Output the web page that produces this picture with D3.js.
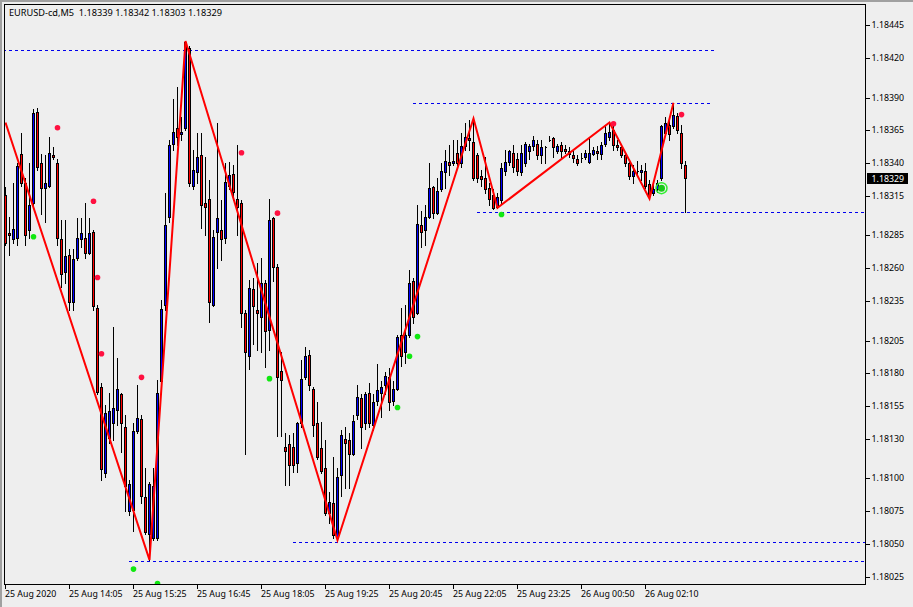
<!DOCTYPE html>
<html>
<head>
<meta charset="utf-8">
<script src="https://cdn.jsdelivr.net/npm/d3@7"></script>
<style>
body{margin:0;background:#eeeeee;}
svg{display:block;}
text{font-family:"Noto Sans",sans-serif;font-size:8.8px;fill:#000;}
</style>
</head>
<body>
<svg id="chart" width="913" height="607"></svg>
<script>
// EURUSD-cd M5 bars, index 0 = first visible bar
symbol = "EURUSD-cd,M5";

opens = [1.18316,1.18287,1.18282,1.18283,1.18347,1.18325,1.18289,1.18310,1.18379,1.18340,
1.18321,1.18323,1.18346,1.18340,1.18282,1.18257,1.18270,1.18234,1.18268,1.18282,
1.18283,1.18272,1.18288,1.18230,1.18170,1.18104,1.18131,1.18142,1.18152,1.18164,
1.18139,1.18075,1.18076,1.18136,1.18145,1.18086,1.18058,1.18055,1.18055,1.18174,
1.18232,1.18299,1.18355,1.18367,1.18362,1.18367,1.18428,1.18323,1.18333,1.18346,
1.18310,1.18313,1.18232,1.18288,1.18289,1.18283,1.18323,1.18332,1.18313,1.18310,
1.18226,1.18193,1.18244,1.18228,1.18223,1.18249,1.18213,1.18298,1.18261,1.18182,
1.18124,1.18126,1.18124,1.18112,1.18142,1.18177,1.18194,1.18168,1.18142,1.18123,
1.18108,1.18074,1.18081,1.18055,1.18103,1.18130,1.18129,1.18119,1.18148,1.18161,
1.18142,1.18165,1.18141,1.18159,1.18165,1.18171,1.18177,1.18159,1.18168,1.18209,
1.18196,1.18209,1.18250,1.18226,1.18293,1.18289,1.18299,1.18322,1.18302,1.18320,
1.18333,1.18341,1.18340,1.18348,1.18340,1.18353,1.18359,1.18356,1.18346,1.18330,
1.18329,1.18321,1.18316,1.18307,1.18312,1.18334,1.18341,1.18348,1.18343,1.18333,
1.18340,1.18349,1.18353,1.18355,1.18346,1.18352,1.18358,1.18359,1.18349,1.18354,
1.18351,1.18349,1.18346,1.18343,1.18344,1.18345,1.18341,1.18347,1.18349,1.18347,
1.18355,1.18360,1.18365,1.18354,1.18352,1.18346,1.18340,1.18330,1.18334,1.18333,
1.18334,1.18324,1.18317,1.18320,1.18329,1.18363,1.18369,1.18368,1.18376,1.18363,
1.18339];

highs = [1.18322,1.18299,1.18325,1.18340,1.18363,1.18329,1.18340,1.18381,1.18382,1.18347,
1.18346,1.18360,1.18352,1.18343,1.18297,1.18297,1.18275,1.18275,1.18298,1.18298,
1.18310,1.18298,1.18289,1.18232,1.18173,1.18156,1.18165,1.18215,1.18192,1.18165,
1.18148,1.18099,1.18142,1.18171,1.18148,1.18108,1.18097,1.18108,1.18175,1.18236,
1.18317,1.18358,1.18389,1.18398,1.18375,1.18433,1.18429,1.18350,1.18363,1.18363,
1.18345,1.18327,1.18289,1.18371,1.18312,1.18340,1.18341,1.18339,1.18354,1.18312,
1.18228,1.18251,1.18253,1.18264,1.18268,1.18251,1.18313,1.18299,1.18263,1.18196,
1.18135,1.18133,1.18135,1.18143,1.18190,1.18200,1.18198,1.18170,1.18158,1.18143,
1.18129,1.18090,1.18116,1.18108,1.18137,1.18139,1.18135,1.18148,1.18171,1.18164,
1.18166,1.18173,1.18164,1.18187,1.18174,1.18181,1.18184,1.18174,1.18209,1.18230,
1.18232,1.18259,1.18253,1.18308,1.18304,1.18308,1.18340,1.18323,1.18329,1.18340,
1.18350,1.18354,1.18358,1.18358,1.18363,1.18371,1.18373,1.18374,1.18348,1.18335,
1.18345,1.18325,1.18320,1.18317,1.18340,1.18350,1.18350,1.18354,1.18348,1.18354,
1.18356,1.18355,1.18361,1.18358,1.18358,1.18353,1.18361,1.18360,1.18355,1.18356,
1.18354,1.18352,1.18349,1.18346,1.18348,1.18350,1.18359,1.18352,1.18353,1.18356,
1.18369,1.18371,1.18368,1.18358,1.18355,1.18348,1.18343,1.18339,1.18342,1.18339,
1.18340,1.18327,1.18325,1.18327,1.18369,1.18375,1.18375,1.18386,1.18378,1.18369,
1.18342];

lows = [1.18278,1.18270,1.18279,1.18278,1.18323,1.18278,1.18283,1.18308,1.18335,1.18301,
1.18295,1.18322,1.18343,1.18278,1.18246,1.18249,1.18228,1.18228,1.18266,1.18276,
1.18268,1.18271,1.18228,1.18164,1.18099,1.18101,1.18127,1.18129,1.18141,1.18120,
1.18075,1.18072,1.18060,1.18135,1.18081,1.18058,1.18038,1.18053,1.18053,1.18171,
1.18228,1.18295,1.18350,1.18354,1.18358,1.18365,1.18323,1.18320,1.18325,1.18291,
1.18285,1.18219,1.18231,1.18260,1.18266,1.18279,1.18320,1.18312,1.18285,1.18215,
1.18119,1.18183,1.18202,1.18198,1.18196,1.18185,1.18198,1.18250,1.18132,1.18132,
1.18095,1.18095,1.18105,1.18105,1.18139,1.18176,1.18167,1.18132,1.18115,1.18104,
1.18072,1.18066,1.18055,1.18053,1.18087,1.18093,1.18093,1.18118,1.18145,1.18123,
1.18138,1.18139,1.18137,1.18156,1.18147,1.18164,1.18152,1.18156,1.18167,1.18186,
1.18188,1.18208,1.18218,1.18225,1.18276,1.18278,1.18298,1.18298,1.18301,1.18319,
1.18321,1.18331,1.18339,1.18339,1.18337,1.18350,1.18350,1.18327,1.18326,1.18323,
1.18317,1.18308,1.18305,1.18306,1.18310,1.18331,1.18339,1.18333,1.18331,1.18331,
1.18338,1.18343,1.18350,1.18343,1.18340,1.18340,1.18357,1.18345,1.18348,1.18345,
1.18348,1.18345,1.18341,1.18339,1.18341,1.18343,1.18340,1.18346,1.18343,1.18343,
1.18353,1.18358,1.18350,1.18350,1.18345,1.18338,1.18328,1.18325,1.18331,1.18327,
1.18321,1.18313,1.18316,1.18318,1.18327,1.18361,1.18358,1.18367,1.18363,1.18336,
1.18303];

closes = [1.18279,1.18285,1.18290,1.18338,1.18325,1.18285,1.18308,1.18378,1.18337,1.18321,
1.18325,1.18348,1.18345,1.18283,1.18256,1.18269,1.18234,1.18267,1.18283,1.18287,
1.18272,1.18287,1.18231,1.18166,1.18107,1.18150,1.18151,1.18154,1.18168,1.18142,
1.18094,1.18096,1.18136,1.18146,1.18087,1.18059,1.18096,1.18094,1.18165,1.18229,
1.18293,1.18354,1.18364,1.18360,1.18364,1.18432,1.18325,1.18335,1.18345,1.18308,
1.18307,1.18234,1.18284,1.18298,1.18282,1.18326,1.18331,1.18318,1.18307,1.18226,
1.18196,1.18245,1.18231,1.18226,1.18249,1.18212,1.18297,1.18261,1.18177,1.18175,
1.18121,1.18110,1.18110,1.18142,1.18176,1.18193,1.18171,1.18141,1.18116,1.18106,
1.18074,1.18082,1.18057,1.18101,1.18133,1.18127,1.18119,1.18144,1.18162,1.18139,
1.18164,1.18142,1.18158,1.18167,1.18170,1.18178,1.18158,1.18168,1.18208,1.18193,
1.18209,1.18249,1.18223,1.18294,1.18288,1.18299,1.18321,1.18302,1.18319,1.18334,
1.18342,1.18339,1.18342,1.18340,1.18353,1.18360,1.18358,1.18329,1.18329,1.18328,
1.18320,1.18313,1.18306,1.18314,1.18336,1.18341,1.18349,1.18337,1.18334,1.18348,
1.18355,1.18353,1.18358,1.18346,1.18352,1.18352,1.18358,1.18352,1.18353,1.18349,
1.18349,1.18347,1.18344,1.18340,1.18344,1.18348,1.18348,1.18350,1.18348,1.18354,
1.18363,1.18364,1.18354,1.18352,1.18346,1.18340,1.18330,1.18334,1.18334,1.18335,
1.18323,1.18315,1.18320,1.18325,1.18368,1.18371,1.18362,1.18377,1.18365,1.18340,
1.18329];

// price scale labels and time labels
priceTicks = [1.18445,1.18420,1.18390,1.18365,1.18340,1.18315,1.18285,1.18260,1.18235,
1.18205,1.18180,1.18155,1.18130,1.18100,1.18075,1.18050,1.18025];
timeLabelBars = [0,16,32,48,64,80,96,112,128,144,160];
timeLabels = ["25 Aug 2020","25 Aug 14:05","25 Aug 15:25","25 Aug 16:45","25 Aug 18:05",
"25 Aug 19:25","25 Aug 20:45","25 Aug 22:05","25 Aug 23:25","26 Aug 00:50","26 Aug 02:10"];

// zigzag pivots
zigBars = [0,36,45,83,117,123,151,161,167];
zigPrices = [1.18371,1.18038,1.18433,1.18053,1.18374,1.18306,1.18371,1.18313,1.18386];

// indicator dots
redDotBars = [13,22,23,24,34,59,68,152,169];
redDotPrices = [1.18367,1.18311,1.18253,1.18195,1.18177,1.18348,1.18302,1.18370,1.18377];
greenDotBars = [7,32,38,66,98,101,103,124];
greenDotPrices = [1.18284,1.18031,1.18020,1.18176,1.18154,1.18193,1.18208,1.18301];
signalBar = 164;
signalPrice = 1.18321;

// horizontal levels (bar range they span)
levelPrices = [1.18426,1.18386,1.18303,1.18052,1.18037];
levelFrom = [-2,102,118,72,31];
levelTo = [177.6,176.4,230,230,230];

let svg = d3.select("#chart");
let W = 913, H = 607;
let pLeft = 4, pTop = 4, pRight = 865, pBottom = 584;

let x = d3.scaleLinear().domain([0,170]).range([5,685]);
let y = d3.scaleLinear().domain([1.18025,1.18445]).range([577,25.3]);
let cx = i => Math.round(x(i)) + 0.5;
let ry = p => Math.round(y(p));

svg.append("rect").attr("width",W).attr("height",H).attr("fill","#eeeeee");
// window edge
svg.append("path").attr("d","M0,1 H"+W+" M1,0 V"+H)
    .attr("stroke","#a0a0a0").attr("stroke-width",2).attr("fill","none");

svg.append("clipPath").attr("id","plotclip")
    .append("rect").attr("x",pLeft+1).attr("y",pTop+1)
    .attr("width",pRight-pLeft-1).attr("height",pBottom-pTop-1);

let plot = svg.append("g").attr("clip-path","url(#plotclip)");

// levels
plot.append("g").selectAll("line")
    .data(levelPrices).enter()
    .append("line")
    .attr("x1",(d,i)=>x(levelFrom[i]))
    .attr("x2",(d,i)=>x(levelTo[i]))
    .attr("y1",d=>ry(d)+0.5)
    .attr("y2",d=>ry(d)+0.5)
    .attr("stroke","#0000ee")
    .attr("stroke-width",1)
    .attr("stroke-dasharray","3,3")
    .attr("shape-rendering","crispEdges");

// candles
let bars = d3.range(opens.length);
let candles = plot.append("g").attr("shape-rendering","crispEdges");
candles.selectAll("line")
    .data(bars).enter()
    .append("line")
    .attr("x1",cx).attr("x2",cx)
    .attr("y1",i=>ry(highs[i]))
    .attr("y2",i=>ry(lows[i])+1)
    .attr("stroke","#000");
candles.selectAll("path")
    .data(bars).enter()
    .append("path")
    .attr("d",function(i){
        let t = ry(Math.max(opens[i],closes[i])) + 0.5;
        let b = ry(Math.min(opens[i],closes[i])) + 0.5;
        let x0 = cx(i) - 1, x1 = cx(i) + 1;
        return "M"+x0+","+t+"H"+x1+"V"+b+"H"+x0+"Z";
    })
    .attr("fill",i=>closes[i]>=opens[i] ? "#0000ff" : "#ff0000")
    .attr("stroke","#000")
    .attr("stroke-width",1);

// zigzag
let zig = d3.line()
    .x(d=>x(d[0])+0.5)
    .y(d=>y(d[1]));
plot.append("path")
    .attr("d",zig(zigBars.map((b,i)=>[b,zigPrices[i]])))
    .attr("fill","none")
    .attr("stroke","#ff0000")
    .attr("stroke-width",2);

// dots
plot.append("g").selectAll("circle")
    .data(redDotBars).enter()
    .append("circle")
    .attr("cx",d=>cx(d))
    .attr("cy",(d,i)=>y(redDotPrices[i]))
    .attr("r",2.8)
    .attr("fill","#ff1040");
plot.append("g").selectAll("circle")
    .data(greenDotBars).enter()
    .append("circle")
    .attr("cx",d=>cx(d))
    .attr("cy",(d,i)=>y(greenDotPrices[i]))
    .attr("r",2.8)
    .attr("fill","#10e810");
plot.append("circle")
    .attr("cx",cx(signalBar)).attr("cy",y(signalPrice))
    .attr("r",5.5).attr("fill","none")
    .attr("stroke","#30f030").attr("stroke-width",1.5);
plot.append("circle")
    .attr("cx",cx(signalBar)).attr("cy",y(signalPrice))
    .attr("r",3.5).attr("fill","#18c818");

// frame
svg.append("rect")
    .attr("x",pLeft+0.5).attr("y",pTop+0.5)
    .attr("width",pRight-pLeft).attr("height",pBottom-pTop)
    .attr("fill","none").attr("stroke","#000")
    .attr("shape-rendering","crispEdges");

// price axis
let yAxis = d3.axisRight(y)
    .tickValues(priceTicks)
    .tickFormat(d3.format(".5f"))
    .tickSizeInner(4).tickSizeOuter(0).tickPadding(2);
let ya = svg.append("g")
    .attr("transform","translate("+(pRight+0.5)+",0)")
    .call(yAxis);
ya.select(".domain").remove();
ya.selectAll(".tick line").attr("stroke","#000").attr("shape-rendering","crispEdges");
ya.selectAll(".tick").attr("transform",d=>"translate(0,"+(ry(d)+0.5)+")");
ya.selectAll("text").attr("font-family",null).attr("font-size",null);

// time axis
let xAxis = d3.axisBottom(x)
    .tickValues(timeLabelBars)
    .tickFormat((d,i)=>timeLabels[i])
    .tickSizeInner(4).tickSizeOuter(0).tickPadding(2);
let xa = svg.append("g")
    .attr("transform","translate(0,"+(pBottom+0.5)+")")
    .call(xAxis);
xa.select(".domain").remove();
xa.selectAll(".tick").attr("transform",d=>"translate("+cx(d)+",0)");
xa.selectAll(".tick line").attr("stroke","#000").attr("shape-rendering","crispEdges");
xa.selectAll("text").attr("text-anchor","start").attr("x",-0.5)
    .attr("font-family",null).attr("font-size",null);

// current price tag
let last = closes.length - 1;
let tagY = ry(closes[last]) + 0.5;
svg.append("rect")
    .attr("x",pRight+2).attr("y",tagY-5.5)
    .attr("width",41).attr("height",11)
    .attr("fill","#000");
svg.append("text")
    .attr("x",pRight+6.5).attr("y",tagY+3)
    .style("fill","#fff")
    .text(d3.format(".5f")(closes[last]));

// title
let f5 = d3.format(".5f");
svg.append("text")
    .attr("x",9).attr("y",16)
    .style("font-size","9.2px")
    .text(symbol+"\u00a0\u00a0"+f5(opens[last])+" "+f5(highs[last])+" "+f5(lows[last])+" "+f5(closes[last]));
</script>
</body>
</html>
